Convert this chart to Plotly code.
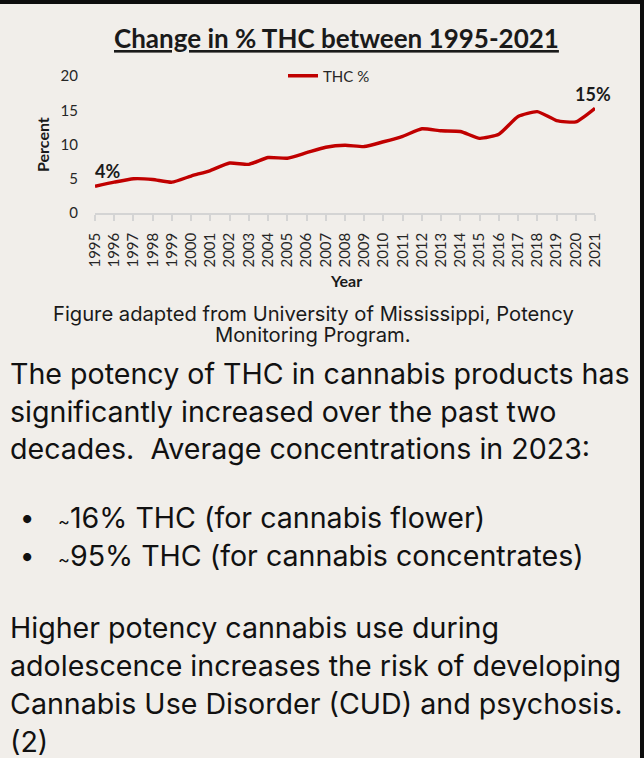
import plotly.graph_objects as go

# ---- data ----
years = list(range(1995, 2022))
thc_pct = [3.9, 4.5, 5.0, 4.9, 4.5, 5.4, 6.2, 7.3, 7.1, 8.1, 8.0, 8.8, 9.6,
           9.9, 9.7, 10.4, 11.2, 12.3, 12.0, 11.9, 10.9, 11.5, 14.1, 14.8,
           13.5, 13.3, 15.3]
y_ticks = [0, 5, 10, 15, 20]
series_name = "THC %"
title_text = "Change in % THC between 1995-2021"
caption_lines = ["Figure adapted from University of Mississippi, Potency",
                 "Monitoring Program."]
para1_lines = ["The potency of THC in cannabis products has",
               "significantly increased over the past two",
               "decades.  Average concentrations in 2023:"]
bullets = ["16% THC (for cannabis flower)", "95% THC (for cannabis concentrates)"]
para2_lines = ["Higher potency cannabis use during",
               "adolescence increases the risk of developing",
               "Cannabis Use Disorder (CUD) and psychosis.",
               "(2)"]

W, H = 644, 758
L, R, T, B = 95, 595, 76, 213  # plot area pixels
BG = "#f1eeea"
RED = "#c00000"
BODY_FONT = "Inter"


def px(x):
    return (x - L) / (R - L)


def py(y):
    return (B - y) / (B - T)


fig = go.Figure()
fig.add_trace(go.Scatter(
    x=years, y=thc_pct, mode="lines", name=series_name,
    line=dict(color=RED, width=3.4, shape="spline", smoothing=0.5),
    cliponaxis=False, hoverinfo="skip"))

annotations = []


def note(x, y, text, size, family, color="#111111", xanchor="center", **kw):
    annotations.append(dict(x=px(x), y=py(y), xref="paper", yref="paper",
                            text=text, showarrow=False, xanchor=xanchor,
                            yanchor="middle", font=dict(family=family, size=size, color=color),
                            **kw))


# data labels for first and last points
for idx, xs, ys in [(0, 12, 15), (-1, -2, 14)]:
    annotations.append(dict(
        x=years[idx], y=thc_pct[idx], xref="x", yref="y",
        text=f"<b>{round(thc_pct[idx])}%</b>", showarrow=False,
        xanchor="center", yanchor="middle",
        xshift=xs, yshift=ys, font=dict(family="Lato", size=18, color="#1a1a1a")))

# title
note(336, 38, f"<b><u>{title_text}</u></b>", 26, "Lato", "#1a1a1a")
# axis titles
note(42, 145, "<b>Percent</b>", 16, "Lato", "#1a1a1a", textangle=-90)
note(346, 280, "<b>Year</b>", 16, "Lato", "#1a1a1a")
# caption
for i, line in enumerate(caption_lines):
    note(313, 313 + i * 21, line, 20.2, BODY_FONT, "#1a1a1a")
# paragraph 1
for i, line in enumerate(para1_lines):
    note(8, 374 + i * 37, line, 28.6, BODY_FONT, xanchor="left")
# bullets
for i, b in enumerate(bullets):
    yy = 517 + i * 38
    note(27, yy, "<b>•</b>", 26, BODY_FONT)
    note(56, yy, '<span style="font-size:18px">~</span>' + b, 28.6, BODY_FONT, xanchor="left")
# paragraph 2
for i, line in enumerate(para2_lines):
    note(8, 627 + i * 38, line, 28.6, BODY_FONT, xanchor="left")

shapes = [
    dict(type="rect", xref="paper", yref="paper", x0=px(0), x1=px(W), y0=py(0), y1=py(4),
         fillcolor="#0d0d0d", line=dict(width=0), layer="above"),
    dict(type="rect", xref="paper", yref="paper", x0=px(640), x1=px(W), y0=py(0), y1=py(H),
         fillcolor="#0d0d0d", line=dict(width=0), layer="above"),
]

fig.update_layout(
    width=W, height=H,
    margin=dict(l=L, r=W - R, t=T, b=H - B, pad=0),
    paper_bgcolor=BG, plot_bgcolor=BG,
    showlegend=True,
    legend=dict(orientation="h", x=px(283), y=py(76), xanchor="left", yanchor="middle",
                font=dict(family="Lato", size=15, color="#262626"),
                bgcolor="rgba(0,0,0,0)", borderwidth=0, itemwidth=30),
    xaxis=dict(range=[1995, 2021], tickmode="array", tickvals=years,
               ticktext=[str(y) for y in years], tickangle=-90,
               tickfont=dict(family="Lato", size=15, color="#262626"),
               showgrid=False, zeroline=False, showline=True, linecolor="#d4d4d4",
               linewidth=1.5, ticks="outside", ticklen=6, tickcolor="#d4d4d4",
               tickwidth=1.5, ticklabelstandoff=6, fixedrange=True),
    yaxis=dict(range=[0, 20], tickmode="array", tickvals=y_ticks,
               tickfont=dict(family="Lato", size=15, color="#262626"),
               showgrid=False, zeroline=False, showline=False, ticks="",
               ticklabelstandoff=16, fixedrange=True),
    annotations=annotations, shapes=shapes,
)

fig.write_html("out.html", config={"displayModeBar": False},
               post_script="document.body.style.margin='0';document.body.style.padding='0';")
